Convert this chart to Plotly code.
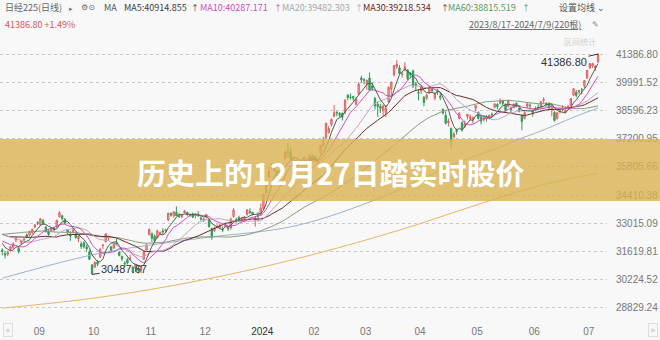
import numpy as np
import pandas as pd
import plotly.graph_objects as go

# ---- trading calendar (Tokyo) ----
start, end = "2023-08-17", "2024-07-09"
jp_holidays = ["2023-09-18", "2023-10-09", "2023-11-03", "2023-11-23", "2024-01-01",
               "2024-01-02", "2024-01-03", "2024-01-08", "2024-02-12", "2024-02-23",
               "2024-03-20", "2024-04-29", "2024-05-03", "2024-05-06"]
dates = pd.bdate_range(start, end, freq="C", holidays=jp_holidays)

# closes before the window, used only to warm up the moving averages
warmup_closes = [30957, 30801, 30916, 31233, 31328, 30888, 31148, 31524, 32217, 32506,
                 31913, 31641, 32265, 32434, 33018, 33502, 33485, 33706, 33370, 33388,
                 33575, 33264, 32781, 32698, 32538, 33193, 33234, 33189, 33753, 33422,
                 33338, 32773, 32388, 32190, 32203, 31943, 32419, 32391, 32493, 32896,
                 32490, 32304, 32700, 32682, 32668, 32891, 32759, 33172, 33476, 32707,
                 32159, 32192, 32254, 32377, 32204, 32473, 32059, 32238, 31766]

opens = [31700, 31520, 31490, 31720, 31830, 32180, 31780, 32050, 32190, 32450, 32420,
         32560, 32830, 33060, 32950, 33150, 32830, 32650, 32650, 32780, 32860, 33340, 33390, 33200, 32700, 32460, 32560, 32480, 32250, 32000, 32060,
         31850, 31600, 30950, 30850, 31100, 31350, 31920, 32100, 32300, 31850, 31800, 32050, 31600, 31380, 31050, 31220, 31250, 30850, 30780, 30790, 30700,
         31250, 31700, 32450, 32500, 32380, 32300, 32500, 32640, 32640, 33180, 33500, 33380, 33560, 33400, 33350, 33530, 33560, 33420, 33480, 33390,
         33460, 33280, 33170, 33320, 33200, 32750, 32650, 32800, 32820, 32700, 32860, 32800, 32780, 33350, 33200, 33300, 33200, 33240, 33440, 33600, 33560,
         33180, 33400, 33460, 33750, 34520, 35300, 35800, 35760, 35580, 35560, 35800, 36200, 36540, 36560, 36050, 36110, 35900, 36100, 35930,
         36100, 36300, 36140, 36280, 36050, 36500, 36950, 37250, 37500, 37900, 38300, 38500, 38450, 38450, 38500, 39350, 39250, 39280, 38900,
         39400, 40200, 40110, 39900, 40200, 39810, 39200, 38900, 38800, 38600, 38500, 39030, 39650, 40350, 40750, 40700, 40370, 40600, 40600, 40450,
         40550, 39900, 39500, 39550, 39250, 39200, 39500, 39650, 39200, 39600, 39300, 38650, 38350, 38000, 37700, 37300, 37600, 38200, 38000, 37800, 38300,
         38200, 38150, 38700, 38500, 38250, 38150, 38300, 38250, 38400, 38750, 38900, 38950, 39100, 38900, 38800, 38700, 38750, 38950, 38700, 38350, 38200,
         38800, 38850, 38600, 38600, 38750, 38800, 39100, 38950, 38950, 38650, 38500, 38200, 38550, 38650, 38500, 38700, 38850, 39350, 39500, 39500,
         39650, 39800, 40200, 40700, 40800, 40700, 41000]
highs = [31780, 31650, 31650, 31900, 32080, 32320, 31870, 32200, 32280, 32510, 32650,
         32760, 32980, 33120, 33260, 33230, 32900, 32720, 32830, 32850, 33190, 33634, 33440, 33280, 32740, 32630, 32750, 32560, 32450, 32120, 32120,
         31960, 31700, 31000, 31150, 31200, 31770, 32000, 32533, 32400, 31900, 32080, 32260, 31620, 31420, 31140, 31300, 31470, 30900, 31000, 30900, 30950,
         31650, 32010, 32770, 32560, 32460, 32700, 32600, 32770, 32750, 33530, 33560, 33600, 33853, 33520, 33480, 33680, 33580, 33500, 33550, 33500,
         33620, 33340, 33300, 33480, 33250, 32800, 32850, 32970, 32990, 32870, 33050, 32880, 33300, 33770, 33300, 33390, 33320, 33380, 33700, 33760, 33580,
         33380, 33580, 33990, 34500, 35100, 35840, 36000, 36010, 35640, 35600, 36000, 36600, 36984, 36760, 36240, 36160, 36100, 36200, 36290,
         36200, 36440, 36430, 36380, 36200, 36900, 37290, 37990, 37830, 38200, 38865, 38560, 38520, 38500, 39156, 39400, 39426, 39330, 39230,
         39990, 40314, 40190, 40120, 40472, 39990, 39250, 39030, 38930, 38900, 38860, 39770, 40010, 40820, 41087, 40840, 40500, 40980, 40630, 40500,
         40620, 40000, 39650, 39850, 39300, 39440, 39800, 39740, 39500, 39660, 39450, 38700, 38550, 38200, 37760, 37520, 37700, 38500, 38050, 38100, 38420,
         38400, 38300, 38860, 38550, 38350, 38300, 38350, 38400, 38500, 38950, 38950, 39200, 39120, 38950, 39120, 38800, 38950, 39000, 38750, 38400, 38550,
         38950, 38950, 38650, 38800, 38900, 39050, 39250, 39000, 39000, 38900, 38550, 38500, 38700, 38850, 38800, 38850, 39200, 39700, 39600, 39600,
         39700, 40100, 40600, 40950, 40950, 40850, 41386.80]
lows = [31430, 31276, 31390, 31640, 31740, 32080, 31520, 31970, 32100, 32290, 32380,
        32480, 32800, 32930, 32890, 32930, 32550, 32380, 32580, 32600, 32790, 33300, 33150, 32980, 32450, 32150, 32520, 32260, 32080, 31750, 31770,
        31620, 31200, 30487.67, 30820, 30900, 31300, 31750, 32080, 32170, 31600, 31740, 31940, 31380, 31150, 30840, 30980, 31200, 30550, 30600, 30538, 30550,
        31200, 31670, 32420, 32100, 32050, 32280, 32440, 32480, 32560, 33150, 33350, 33300, 33380, 33280, 33260, 33510, 33380, 33350, 33280, 33250,
        33330, 33150, 33080, 33250, 32800, 32205, 32600, 32780, 32750, 32580, 32840, 32630, 32700, 33300, 33050, 33100, 33150, 33180, 33410, 33480, 33410,
        32850, 33120, 33420, 33700, 34500, 35280, 35700, 35570, 35250, 35230, 35700, 36190, 36250, 36150, 35900, 35690, 35830, 35990, 35820,
        35870, 36090, 36080, 36060, 35900, 36400, 36800, 37200, 37460, 37800, 38270, 38300, 38250, 38100, 38400, 39100, 39140, 39080, 38860,
        39400, 39970, 39900, 39610, 39580, 39550, 38640, 38270, 38470, 38330, 38270, 38990, 39290, 40280, 40650, 40400, 40230, 40530, 40100, 40190,
        39700, 39600, 39100, 39410, 38800, 39100, 39420, 39470, 39100, 39370, 39100, 38390, 37900, 37800, 36733, 37200, 37400, 38150, 37550, 37720, 38150,
        38100, 37950, 38550, 38150, 37900, 38050, 38050, 38150, 38250, 38700, 38650, 38900, 38850, 38550, 38750, 38450, 38700, 38750, 38500, 37617, 38150,
        38700, 38650, 38300, 38550, 38600, 38700, 38950, 38800, 38650, 38300, 38050, 38150, 38450, 38550, 38450, 38650, 38800, 39300, 39250, 39400,
        39400, 39700, 40150, 40650, 40700, 40550, 40950]
closes = [31626, 31450, 31566, 31856, 32010, 32288, 31624, 32169, 32227, 32333, 32619,
          32711, 32939, 33036, 33241, 32991, 32606, 32467, 32776, 32707, 33168, 33533, 33242, 33023, 32571, 32402, 32678, 32315, 32371, 31872, 31857,
          31759, 31238, 30526, 31075, 30994, 31746, 31936, 32494, 32315, 31659, 32040, 31998, 31430, 31259, 30999, 31062, 31269, 30601, 30991, 30697, 30858,
          31601, 31950, 32708, 32272, 32166, 32646, 32568, 32585, 32695, 33519, 33424, 33585, 33388, 33354, 33452, 33625, 33447, 33408, 33321, 33486,
          33431, 33231, 33231, 33445, 32858, 32307, 32791, 32843, 32926, 32686, 32970, 32758, 33219, 33675, 33140, 33169, 33254, 33305, 33681, 33539, 33464,
          33288, 33377, 33763, 34441, 35049, 35577, 35901, 35619, 35477, 35466, 35963, 36546, 36517, 36226, 36236, 35751, 36026, 36065, 36286,
          36011, 36158, 36354, 36160, 36119, 36863, 36897, 37963, 37703, 38157, 38487, 38470, 38363, 38262, 39098, 39233, 39239, 39208, 39166,
          39910, 40109, 40097, 40090, 39598, 39688, 38820, 38797, 38695, 38807, 38707, 39740, 40003, 40815, 40888, 40414, 40398, 40762, 40168, 40369,
          39803, 39838, 39451, 39773, 38992, 39347, 39773, 39581, 39442, 39523, 39232, 38471, 37961, 38079, 37068, 37438, 37552, 38460, 37628, 37934, 38405,
          38274, 38236, 38835, 38202, 38073, 38229, 38179, 38356, 38385, 38920, 38787, 39069, 38946, 38617, 39103, 38646, 38900, 38855, 38556, 38054, 38487,
          38923, 38837, 38490, 38703, 38683, 39038, 39134, 38876, 38720, 38814, 38102, 38482, 38570, 38633, 38596, 38804, 39173, 39667, 39341, 39583,
          39631, 40074, 40580, 40913, 40912, 40780, 41386.80]

# long averages, read at a few bars
ma120_idx = [0, 36, 73, 109, 146, 165, 183, 189, 198, 212, 219]
ma120_val = [30300, 31540, 32280, 32930, 34660, 35890, 36790, 37130, 37580, 38370, 38715]
ma250_idx = [0, 36, 73, 109, 146, 172, 198, 219]
ma250_val = [28820, 29360, 30200, 31290, 32680, 33820, 34900, 35500]

y_ticks = [41386.80, 39991.52, 38596.23, 37200.95, 35805.66,
           34410.38, 33015.09, 31619.81, 30224.52, 28829.24]

low_mark = ("30487.67", 33, 30487.67)
last_mark = ("41386.80", 219, 41386.80)

# ---- derived series ----
x = np.arange(len(closes))
all_close = pd.Series(warmup_closes + closes, dtype=float)
n_warm = len(warmup_closes)
ma = {}
for n in (5, 10, 20, 30, 60):
    ma[n] = all_close.rolling(n, min_periods=1).mean().to_numpy()[n_warm:]

month_pos, month_txt = [], []
prev = None
for i, d in enumerate(dates):
    key = (d.year, d.month)
    if prev is not None and key != prev:
        month_pos.append(i)
        month_txt.append("<span style='color:#333'>%d</span>" % d.year if d.month == 1 else "%02d" % d.month)
    prev = key

fig = go.Figure()
fig.add_trace(go.Candlestick(
    x=x, open=opens, high=highs, low=lows, close=closes,
    increasing=dict(line=dict(color="#e06060", width=1), fillcolor="#f3b3b3"),
    decreasing=dict(line=dict(color="#2f9d55", width=1), fillcolor="#2f9d55"),
    whiskerwidth=0, showlegend=False, hoverinfo="skip"))

line_styles = [
    (ma250_idx, ma250_val, "#e3b765"),
    (ma120_idx, ma120_val, "#9fb3c8"),
]
for xi, yi, col in line_styles:
    fig.add_trace(go.Scatter(x=xi, y=yi, mode="lines", line=dict(color=col, width=1, shape="spline"),
                             showlegend=False, hoverinfo="skip"))

ma_colors = {60: "#8a9c80", 30: "#6b2b2b", 20: "#c9a2c6", 10: "#d24fc4", 5: "#4f5f4f"}
for n in (60, 30, 20, 10, 5):
    fig.add_trace(go.Scatter(x=x, y=ma[n], mode="lines", line=dict(color=ma_colors[n], width=1),
                             showlegend=False, hoverinfo="skip"))

# plot box in pixels
L, R, T, B = 0, 607, 44, 318
def fx(px):
    return (px - L) / (R - L)
def fy(py):
    return (B - py) / (B - T)

ui = "Noto Sans CJK SC"
num = "Liberation Sans"
ann = []
def txt(px, py, s, color, size=9, fam=ui, anchor="left", **kw):
    ann.append(dict(x=fx(px), y=fy(py), xref="paper", yref="paper", text=s, showarrow=False,
                    xanchor=anchor, yanchor="middle", font=dict(family=fam, size=size, color=color), **kw))

# header row
txt(3, 8, "日经225(日线)", "#666")
txt(67, 8, "▸", "#777", size=7)
txt(79, 8, "⚙⊙", "#666", size=8, fam="DejaVu Sans")
txt(102, 8, "MA", "#555")
txt(122, 8, "MA5:40914.855", "#3a3a3a")
txt(189, 8, "↑", "#3a3a3a", size=8)
txt(198, 8, "MA10:40287.171", "#d04dc0")
txt(272, 8, "↑", "#d04dc0", size=8)
txt(280, 8, "MA20:39482.303", "#a8a8a8")
txt(353, 8, "↑", "#a8a8a8", size=8)
txt(361, 8, "MA30:39218.534", "#6b2424")
txt(439, 8, "↑", "#6b2424", size=8)
txt(446, 8, "MA60:38815.519", "#5c9a5c")
txt(520, 8, "↑", "#5c9a5c", size=8)
txt(557, 8, "设置均线 ⌄", "#555")
txt(3, 24, "41386.80 +1.49%", "#d25a5a")
txt(467, 24, "<u>2023/8/17-2024/7/9(220根)</u>", "#666")
txt(590, 24, "✎", "#888", size=8, fam="DejaVu Sans")
txt(562, 42, "区间统计", "#d0d0d0", size=8)
txt(8, 330, "«", "#bbb", size=9, fam="DejaVu Sans", anchor="center",
    bordercolor="#dddddd", borderwidth=1, borderpad=1)
txt(653, 330, "»", "#bbb", size=9, fam="DejaVu Sans", anchor="center",
    bordercolor="#dddddd", borderwidth=1, borderpad=1)

# price call-outs
for label, i, v, axp, ayp in [(low_mark[0], low_mark[1], low_mark[2], 32, -5),
                              (last_mark[0], last_mark[1], last_mark[2], -34, 8)]:
    ann.append(dict(x=i, y=v, xref="x", yref="y", text=label, showarrow=True, arrowhead=0,
                    arrowwidth=1, arrowcolor="#333", ax=axp, ay=ayp,
                    font=dict(family=num, size=11, color="#333")))

# headline banner
ann.append(dict(x=fx(330), y=fy(172), xref="paper", yref="paper",
                text="<b>历史上的12月27日踏实时股价</b>", showarrow=False,
                xanchor="center", yanchor="middle",
                font=dict(family=ui, size=29, color="#ffffff")))

fig.update_layout(
    width=660, height=340, autosize=False,
    margin=dict(l=L, r=660 - R, t=T, b=340 - B),
    paper_bgcolor="#f8f8f8", plot_bgcolor="#f8f8f8",
    xaxis=dict(range=[-0.85, 222.3], tickvals=month_pos, ticktext=month_txt,
               showgrid=False, zeroline=False, showline=False, ticks="",
               rangeslider=dict(visible=False), ticklabelshift=7, ticklabelstandoff=6,
               tickfont=dict(family=num, size=10, color="#777")),
    yaxis=dict(range=[28334.4, 41881.6], side="right", tickvals=y_ticks,
               ticktext=["%.2f" % v for v in y_ticks], showgrid=True, gridcolor="#c9c9c9",
               griddash="dot", gridwidth=1, zeroline=False, showline=False, ticks="",
               ticklabelstandoff=8, tickfont=dict(family=num, size=10, color="#777")),
    shapes=[dict(type="rect", xref="paper", yref="paper", x0=fx(0), x1=fx(660),
                 y0=fy(201), y1=fy(139), fillcolor="rgba(218,178,80,0.80)",
                 line=dict(width=0), layer="above")],
    annotations=ann,
)

fig.write_html("out.html")
